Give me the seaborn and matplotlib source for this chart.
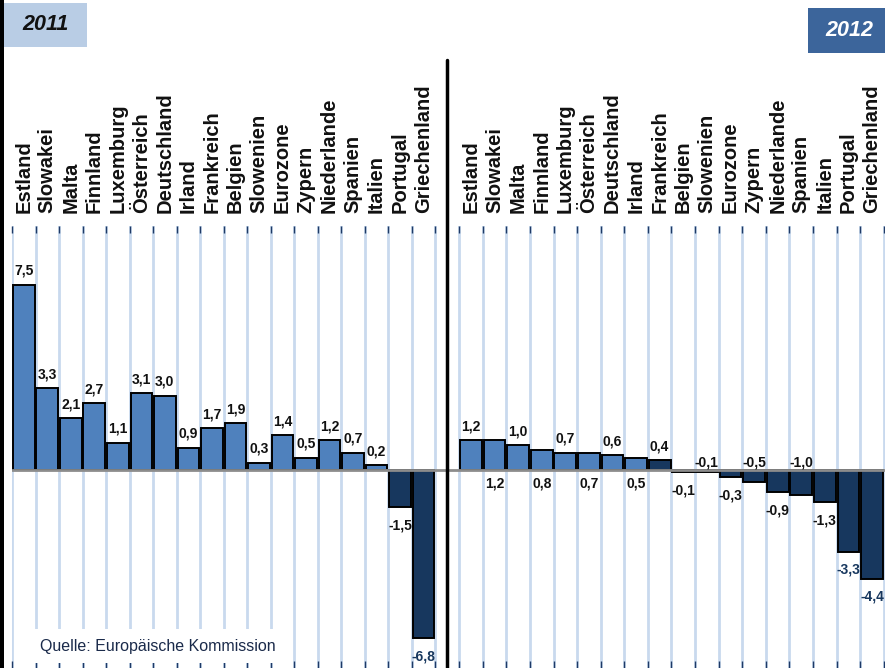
import numpy as np
import pandas as pd
import matplotlib
matplotlib.use('Agg')
import matplotlib.pyplot as plt
from matplotlib.patches import Rectangle
from matplotlib.lines import Line2D
import seaborn as sns

laender = ['Estland', 'Slowakei', 'Malta', 'Finnland', 'Luxemburg', 'Österreich',
           'Deutschland', 'Irland', 'Frankreich', 'Belgien', 'Slowenien', 'Eurozone',
           'Zypern', 'Niederlande', 'Spanien', 'Italien', 'Portugal', 'Griechenland']
werte_2011 = [7.5, 3.3, 2.1, 2.7, 1.1, 3.1, 3.0, 0.9, 1.7, 1.9, 0.3, 1.4,
              0.5, 1.2, 0.7, 0.2, -1.5, -6.8]
werte_2012 = [1.2, 1.2, 1.0, 0.8, 0.7, 0.7, 0.6, 0.5, 0.4, -0.1, -0.1, -0.3,
              -0.5, -0.9, -1.0, -1.3, -3.3, -4.4]
jahre = ['2011', '2012']
quelle = 'Quelle: Europäische Kommission'

sns.set_style('white')
plt.rcParams['font.family'] = ['Liberation Sans', 'DejaVu Sans']

BLAU = '#4f81bd'
DUNKEL = '#17375e'
GRID = '#c9d9ee'
W, H = 885, 668
PX = 24.7  # pixel je Prozentpunkt


def fx(px):
    return px / W


def fy(py):
    return 1 - py / H


def lbl(v):
    return f'{v:.1f}'.replace('.', ',')


def draw_panel(ax, werte, dunkel, wechsel):
    n = len(laender)
    farben = [DUNKEL if (v < 0 or l in dunkel) else BLAU for l, v in zip(laender, werte)]
    df = pd.DataFrame({'land': laender, 'wert': werte})
    ax.vlines(np.arange(n + 1) - 0.5, -20, 20, color=GRID, lw=2, zorder=0)
    sns.barplot(data=df, x='land', y='wert', hue='land', palette=farben, legend=False,
                width=0.92, edgecolor='black', linewidth=1.4, saturation=1, ax=ax, zorder=2)
    ax.axhline(0, color='#8c8c8c', lw=2, zorder=3)
    for i, v in enumerate(werte):
        farbe = DUNKEL if v < -2 else '#111111'
        if not wechsel or v < -2:
            if v >= 0:
                y, off, va = v, 5, 'bottom'
            else:
                y, off, va = v, -8, 'top'
        elif i % 2 == 0:
            y, off, va = max(v, 0), (5 if v > 0 else 0.5), 'bottom'
        else:
            y, off, va = min(v, 0), (-4.5 if v > 0 else -8), 'top'
        ax.annotate(lbl(v), (i, y), xytext=(0, off), textcoords='offset points',
                    ha='center', va=va, fontsize=10, fontweight='bold', color=farbe,
                    zorder=4)
        ax.annotate(laender[i], (i, 1), xycoords=('data', 'axes fraction'),
                    xytext=(0, 9.5), textcoords='offset points', rotation=90,
                    ha='center', va='bottom', fontsize=14.5, fontweight='bold',
                    color='#111111', annotation_clip=False)
    ax.set_ylim(-(H - 470) / PX, (470 - 226) / PX)
    ax.set_xticks([])
    ax.set_yticks([])
    ax.set_xticks(np.arange(n + 1) - 0.5, minor=True)
    ax.tick_params(axis='x', which='minor', top=True, bottom=True, direction='in',
                   length=5, width=1, color='#1f3a66')
    ax.set_xlabel('')
    ax.set_ylabel('')
    for s in ax.spines.values():
        s.set_visible(False)


fig = plt.figure(figsize=(W / 100, H / 100), dpi=100)

ax1 = fig.add_axes([fx(12), 0, fx(447 - 12), (H - 226) / H])
draw_panel(ax1, werte_2011, set(), False)
ax1.set_xlim(-0.5, 18.0)

ax2 = fig.add_axes([fx(449), 0, fx(W - 449), (H - 226) / H])
draw_panel(ax2, werte_2012, {'Frankreich'}, True)
ax2.set_xlim(-0.93, 17.55)

# Rahmen, Trennlinie, Jahresboxen
fig.add_artist(Rectangle((0, 0), fx(4), 1, transform=fig.transFigure,
                         facecolor='black', edgecolor='none'))
fig.add_artist(Line2D([fx(447), fx(447)], [0, fy(60)], transform=fig.transFigure,
                      color='black', lw=2.5))
fig.add_artist(Rectangle((fx(4), fy(47)), fx(83), 44 / H, transform=fig.transFigure,
                         facecolor='#b9cde5', edgecolor='none'))
fig.text(fx(46), fy(25), jahre[0], ha='center', va='center', fontsize=15.5,
         fontweight='bold', fontstyle='italic', color='#111111')
fig.add_artist(Rectangle((fx(808), fy(53)), fx(W - 808), 45 / H, transform=fig.transFigure,
                         facecolor='#3c659b', edgecolor='none'))
fig.text(fx(849), fy(31), jahre[1], ha='center', va='center', fontsize=15.5,
         fontweight='bold', fontstyle='italic', color='white')

fig.text(fx(40), fy(646), quelle, ha='left', va='center', fontsize=11.5,
         color='#1a2a4a', bbox=dict(facecolor='white', edgecolor='none', pad=7))

fig.savefig('out.png', dpi=100)
